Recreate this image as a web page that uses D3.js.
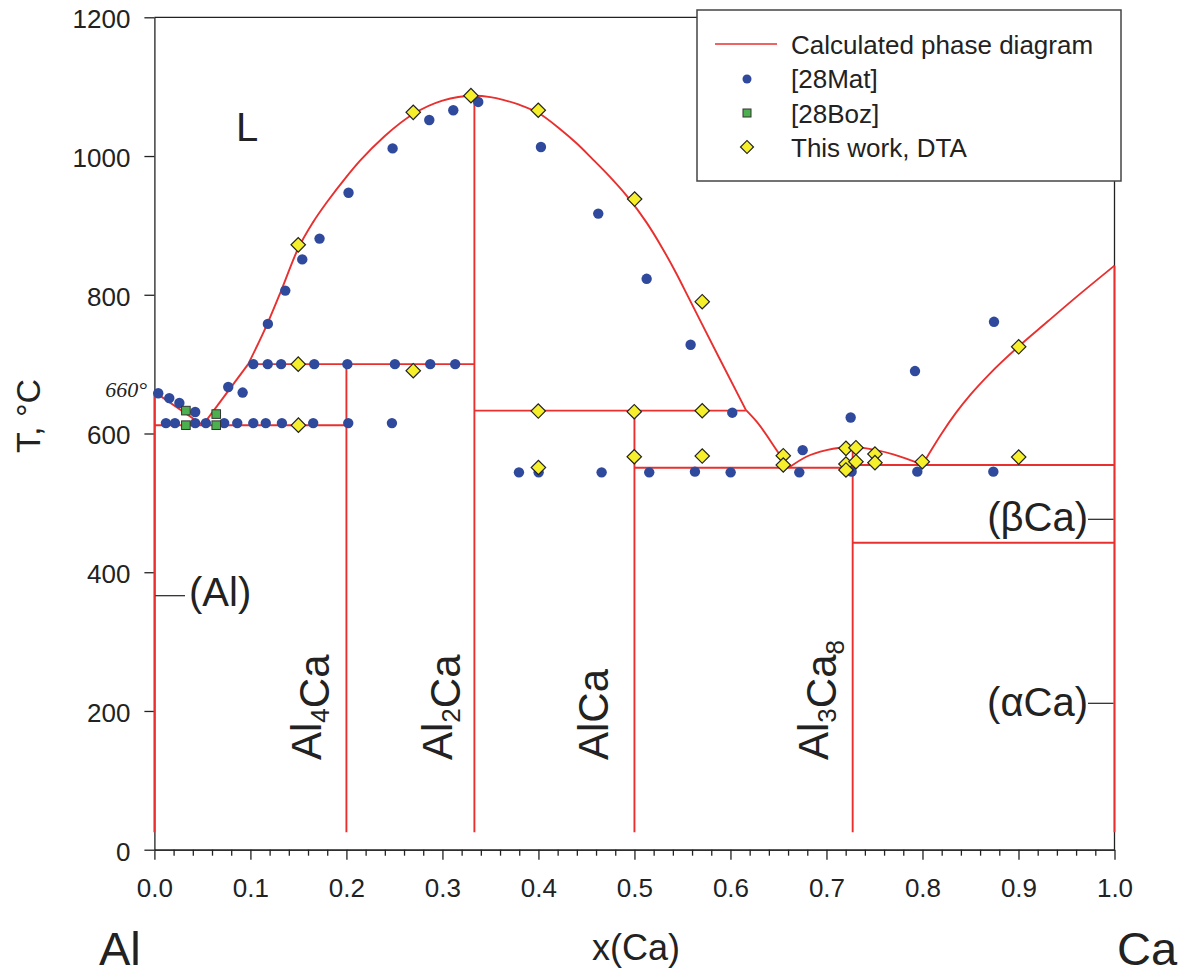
<!DOCTYPE html>
<html><head><meta charset="utf-8">
<script src="https://cdn.jsdelivr.net/npm/d3@7/dist/d3.min.js"></script>
<style>body{margin:0;background:#fff}svg{display:block}</style>
</head><body><svg id="c" width="1184" height="974"></svg>
<script>
// ---------- data ----------
const xTickValues = [0,0.1,0.2,0.3,0.4,0.5,0.6,0.7,0.8,0.9,1.0];
const xTickLabels = ["0.0","0.1","0.2","0.3","0.4","0.5","0.6","0.7","0.8","0.9","1.0"];
const yTickValues = [0,200,400,600,800,1000,1200];

// calculated phase diagram: liquidus branches [x(Ca), T]
const liqAlSide   = [[0,660],[0.0505,612]];
const liqAl4Ca    = [[0.0505,612],[0.0977,700]];
const liqAl2Ca    = [[0.0977,700],[0.1182,760],[0.1318,805],[0.1495,866],[0.165,904],[0.18,934],[0.20,970],[0.214,993],[0.24,1029],[0.27,1061],[0.30,1080],[0.333,1087],
                     [0.35,1085],[0.3633,1081],[0.38,1074],[0.40,1062],[0.4224,1039],[0.44,1018],[0.4554,997],[0.4745,970],[0.4918,943],[0.5127,904],[0.5283,869],[0.5439,830],[0.556,797],[0.5717,754],[0.589,707],[0.616,634]];
const liqAlCa     = [[0.616,634],[0.6273,617],[0.6516,569],[0.661,551]];
const liqAl3Ca8   = [[0.661,551],[0.679,566.5],[0.70,576],[0.714,579.5],[0.728,581],[0.735,580],[0.7696,570],[0.80,555]];
const liqCa       = [[0.80,555],[0.81,578],[0.82,600],[0.835,630],[0.85,656],[0.87,686],[0.8998,725],[0.93,761],[0.957,793],[1.0,842]];
// vertical phase lines [x, Tlow, Thigh]
const verticalLines = [[0,25,660],[0.2,25,700],[0.3333,25,1087],[0.5,25,633],[0.7273,25,581],[1.0,25,842]];
// horizontal invariant lines [T, x1, x2]
const horizontalLines = [[612,0,0.2],[700,0.0977,0.3333],[633,0.3333,0.616],[550.7,0.5,0.7273],[554.5,0.7273,1.0],[442.6,0.7273,1.0]];

// experimental points
const mat28 = [[0.004,658],[0.0155,651],[0.026,644],[0.0425,631],
  [0.012,615],[0.0214,615],[0.0425,615],[0.0536,615],[0.0727,615],[0.0863,615],[0.103,615],[0.116,615],[0.1328,615],[0.1654,615],[0.2019,615],[0.2474,615],
  [0.0769,667],[0.0919,659],
  [0.103,700],[0.118,700],[0.132,700],[0.1665,700],[0.201,700],[0.2505,700],[0.2873,700],[0.3133,700],
  [0.1182,758],[0.1363,806],[0.154,851],[0.172,881],[0.2022,947],[0.2481,1011],[0.2863,1052],[0.3113,1066],[0.3373,1078],
  [0.4026,1013],[0.4623,917],[0.5127,823],[0.5585,728],[0.6019,630],
  [0.3797,544],[0.4002,544],[0.4658,544],[0.5154,544],[0.563,545],[0.6002,544],[0.6717,544],[0.6752,576],[0.7252,623],[0.7262,545],
  [0.7922,690],[0.7946,545],[0.8738,545],[0.8745,761]];
const boz28 = [[0.0328,633],[0.0328,612],[0.0644,628],[0.0644,612]];
const dta = [[0.1498,872],[0.1498,700],[0.15,612],[0.2696,1063],[0.2696,690.5],[0.3297,1087],[0.3998,1066],[0.5002,938],[0.5706,790],
  [0.3998,632.4],[0.4998,631.4],[0.5706,632.8],[0.4,551],[0.4998,566.5],[0.5706,567.5],[0.655,568],[0.655,554.6],
  [0.7203,578.6],[0.7307,579.5],[0.7203,556],[0.7307,559.3],[0.7203,547.4],[0.7505,570.4],[0.7505,558],[0.7998,559.3],[0.9002,725],[0.9002,566]];

const legendItems = ["Calculated phase diagram","[28Mat]","[28Boz]","This work, DTA"];

// ---------- drawing ----------
const RED = "#e8302f", BLUE = "#2f4a9c", YEL = "#f5ef2c", GRN = "#4cb04e";
const FONT = "'Liberation Sans', Arial, Helvetica, sans-serif";
const svg = d3.select("#c");
svg.append("rect").attr("width",1184).attr("height",974).attr("fill","#fff");

const x = d3.scaleLinear().domain([0,1]).range([154.4,1114.5]);
const y = d3.scaleLinear().domain([0,1200]).range([849.7,17.3]);

// frame top / right
svg.append("line").attr("x1",x(0)).attr("x2",x(1)).attr("y1",y(1200)).attr("y2",y(1200)).attr("stroke","#222").attr("stroke-width",1.3);
svg.append("line").attr("x1",x(1)).attr("x2",x(1)).attr("y1",y(1200)).attr("y2",y(0)).attr("stroke","#222").attr("stroke-width",1.3);

// axes
svg.append("g").attr("transform",`translate(0,${y(0)})`)
  .call(d3.axisBottom(x).tickValues(xTickValues).tickFormat((d,i)=>xTickLabels[i]).tickSize(10).tickSizeOuter(0).tickPadding(19));
const minorX = d3.range(0,51).map(i=>i/50).filter(v=>Math.round(v*50)%5!==0);
svg.append("g").attr("transform",`translate(0,${y(0)})`)
  .call(d3.axisBottom(x).tickValues(minorX).tickFormat("").tickSize(6).tickSizeOuter(0));
const gy = svg.append("g").attr("transform",`translate(${x(0)},0)`)
  .call(d3.axisLeft(y).tickValues(yTickValues).tickFormat(d3.format("d")).tickSize(10).tickSizeOuter(0).tickPadding(14));
svg.selectAll(".domain, .tick line").attr("stroke","#222").attr("stroke-width",1.3);
svg.selectAll(".tick text").attr("font-family",FONT).attr("font-size",26).attr("fill","#222");
gy.selectAll(".tick text").attr("dy","0.4em");

// phase lines
const lineStraight = d3.line().x(d=>x(d[0])).y(d=>y(d[1]));
const lineSmooth = d3.line().x(d=>x(d[0])).y(d=>y(d[1])).curve(d3.curveMonotoneX);
const gl = svg.append("g").attr("fill","none").attr("stroke",RED).attr("stroke-width",1.9);
[liqAlSide, liqAl4Ca].forEach(s=>gl.append("path").attr("d",lineStraight(s)));
[liqAl2Ca, liqAlCa, liqAl3Ca8, liqCa].forEach(s=>gl.append("path").attr("d",lineSmooth(s)));
verticalLines.forEach(v=>gl.append("line").attr("x1",x(v[0])).attr("x2",x(v[0])).attr("y1",y(v[1])).attr("y2",y(v[2])));
horizontalLines.forEach(h=>gl.append("line").attr("x1",x(h[1])).attr("x2",x(h[2])).attr("y1",y(h[0])).attr("y2",y(h[0])));

// points
svg.append("g").selectAll("circle").data(mat28).join("circle")
  .attr("cx",d=>x(d[0])).attr("cy",d=>y(d[1])).attr("r",5.2).attr("fill",BLUE);
svg.append("g").selectAll("rect").data(boz28).join("rect")
  .attr("x",d=>x(d[0])-4.3).attr("y",d=>y(d[1])-4.3).attr("width",8.6).attr("height",8.6)
  .attr("fill",GRN).attr("stroke","#333").attr("stroke-width",1);
const diamond = d3.symbol().type(d3.symbolSquare).size(104);
svg.append("g").selectAll("path").data(dta).join("path")
  .attr("d",diamond).attr("transform",d=>`translate(${x(d[0])},${y(d[1])}) rotate(45)`)
  .attr("fill",YEL).attr("stroke","#222").attr("stroke-width",1.2);

// legend
const lg = svg.append("g");
lg.append("rect").attr("x",697).attr("y",10).attr("width",424).attr("height",171).attr("fill","#fff").attr("stroke","#444").attr("stroke-width",1.5);
lg.append("line").attr("x1",715).attr("x2",777).attr("y1",44).attr("y2",44).attr("stroke",RED).attr("stroke-width",1.6);
lg.append("circle").attr("cx",747).attr("cy",79).attr("r",4.5).attr("fill",BLUE);
lg.append("rect").attr("x",743).attr("y",109).attr("width",8).attr("height",8).attr("fill",GRN).attr("stroke","#333").attr("stroke-width",1);
lg.append("path").attr("d",d3.symbol().type(d3.symbolSquare).size(84)).attr("transform","translate(747,147) rotate(45)")
  .attr("fill",YEL).attr("stroke","#222").attr("stroke-width",1.2);
legendItems.forEach((t,i)=>lg.append("text").attr("x",791).attr("y",54+i*34.3).text(t)
  .attr("font-family",FONT).attr("font-size",26).attr("fill","#222"));

// annotations
function txt(t,xp,yp,size,anchor){return svg.append("text").attr("x",xp).attr("y",yp).text(t)
  .attr("font-family",FONT).attr("font-size",size).attr("fill","#222").attr("text-anchor",anchor||"start");}
txt("L",236,141,40);
svg.append("text").attr("x",147).attr("y",397).text("660°").attr("font-family","'Liberation Serif','Times New Roman',serif")
  .attr("font-style","italic").attr("font-size",22).attr("fill","#222").attr("text-anchor","end");
txt("Al",99,965,47);
txt("Ca",1117,965,47);
txt("x(Ca)",636,960,36,"middle");
svg.append("text").attr("transform","translate(40,416) rotate(-90)").attr("text-anchor","middle")
  .attr("font-family",FONT).attr("font-size",34).attr("fill","#222").text("T, °C");

// region labels with leaders
txt("(Al)",189,606,40);
svg.append("line").attr("x1",x(0)+1).attr("x2",185).attr("y1",595.7).attr("y2",595.7).attr("stroke","#222").attr("stroke-width",1.2);
txt("(βCa)",1088,531,40,"end");
svg.append("line").attr("x1",1088).attr("x2",x(1)-1).attr("y1",519.3).attr("y2",519.3).attr("stroke","#222").attr("stroke-width",1.2);
txt("(αCa)",1088,716,40,"end");
svg.append("line").attr("x1",1088).attr("x2",x(1)-1).attr("y1",703.3).attr("y2",703.3).attr("stroke","#222").attr("stroke-width",1.2);

// compound labels (rotated)
function compound(parts, bx, by){
  const t = svg.append("text").attr("transform",`translate(${bx},${by}) rotate(-90)`)
    .attr("font-family",FONT).attr("font-size",42).attr("fill","#222");
  parts.forEach(p=>{
    if(p.sub){ t.append("tspan").attr("font-size",26).attr("dy",8).text(p.s); t.append("tspan").attr("dy",-8).text(""); }
    else t.append("tspan").text(p.s);
  });
}
compound([{s:"Al"},{s:"4",sub:1},{s:"Ca"}],321,760);
compound([{s:"Al"},{s:"2",sub:1},{s:"Ca"}],452,760);
compound([{s:"AlCa"}],608,760);
compound([{s:"Al"},{s:"3",sub:1},{s:"Ca"},{s:"8",sub:1}],828,760);
</script></body></html>
